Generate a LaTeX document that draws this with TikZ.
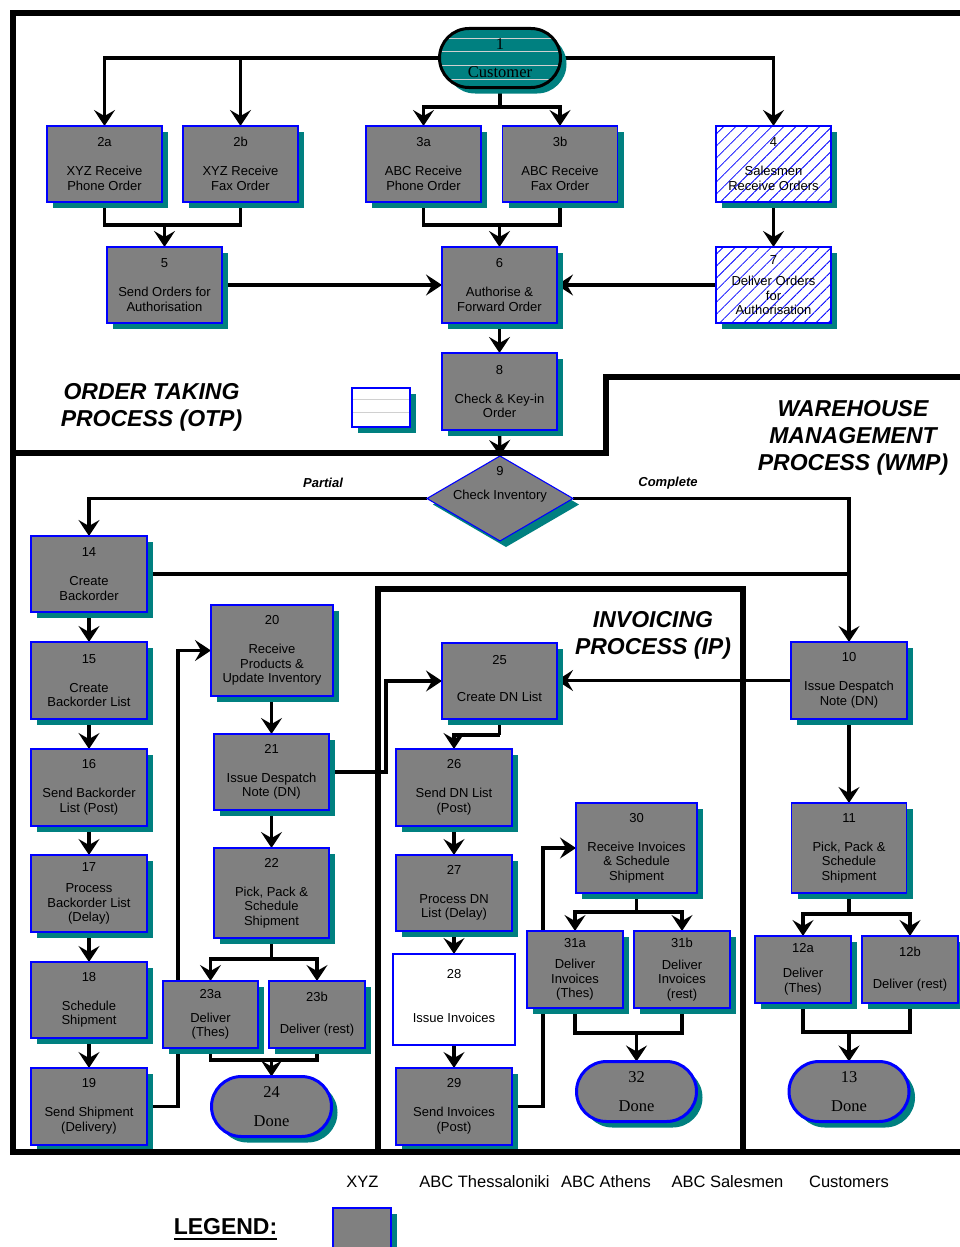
\documentclass[tikz,border=0pt]{standalone}
\usepackage{fontspec}
\setmainfont{Liberation Sans}
\newfontfamily\serifface{Liberation Serif}
\usetikzlibrary{arrows.meta,shapes.geometric,shapes.misc,shadows,patterns.meta,backgrounds}
\definecolor{boxgrey}{HTML}{808080}
\definecolor{shteal}{HTML}{008080}
\definecolor{bblue}{HTML}{0000FF}
\definecolor{stripecol}{HTML}{D0D0D0}
\tikzset{
  every node/.style={inner sep=0pt, outer sep=0pt},
  sz/.style n args={2}{minimum width=#1pt, minimum height=#2pt},
  base/.style={font=\fontsize{13}{14.5}\selectfont, align=center, text=black},
  shad/.style={general shadow={shadow xshift=6pt, shadow yshift=-6pt, fill=shteal}},
  pbox/.style={base, shad, rectangle, draw=bblue, line width=1.1pt, fill=boxgrey},
  wbox/.style={base, rectangle, draw=bblue, line width=1.1pt, fill=white},
  hbox/.style={base, shad, rectangle, draw=bblue, line width=1.1pt, fill=white,
    postaction={pattern={Lines[angle=45,distance=8.5pt,line width=0.8pt]}, pattern color=bblue}},
  done/.style={shad, rounded rectangle, draw=bblue, line width=3pt, fill=boxgrey,
    font=\serifface\fontsize{16.5}{19}\selectfont, align=center, sz={120}{60}},
  custshape/.style={shad, rounded rectangle, draw=black, line width=3pt, fill=shteal,
    font=\serifface\fontsize{16.5}{19}\selectfont, align=center, sz={121}{59},
    path picture={\foreach \d in {10,23,37,51}
      \draw[stripecol, line width=1pt] ([yshift=-\d pt]path picture bounding box.north west) -- ([yshift=-\d pt]path picture bounding box.north east);}},
  dia/.style={shad, diamond, draw=bblue, line width=1.1pt, fill=boxgrey, sz={146}{85}},
  conn/.style={line width=3.3pt, line join=miter, -{Stealth[length=16pt,width=21pt,inset=6pt,line width=2pt]}},
  lin/.style={line width=3.3pt, line join=miter},
  lane/.style={line width=6pt, line join=miter},
  region/.style={font=\bfseries\itshape\fontsize{23}{27}\selectfont, align=center},
  flowlab/.style={font=\bfseries\itshape\fontsize{13}{15}\selectfont},
  leglab/.style={font=\fontsize{16.5}{19}\selectfont}
}
\begin{document}
\begin{tikzpicture}[x=1pt,y=-1pt]
\useasboundingbox (0,0) rectangle (960,1247);

% ---------------- nodes ----------------
\node[custshape] (n1) at (500,58) {1\\[9pt]Customer};
\node[pbox, sz={115}{76}] (n2a) at (104.5,164) {2a\\[14.5pt]XYZ Receive\\Phone Order};
\node[pbox, sz={115}{76}] (n2b) at (240.5,164) {2b\\[14.5pt]XYZ Receive\\Fax Order};
\node[pbox, sz={115}{76}] (n3a) at (423.5,164) {3a\\[14.5pt]ABC Receive\\Phone Order};
\node[pbox, sz={115}{76}] (n3b) at (560,164) {3b\\[14.5pt]ABC Receive\\Fax Order};
\node[hbox, sz={115}{76}] (n4) at (773.5,164) {4\\[14.5pt]Salesmen\\Receive Orders};
\node[pbox, sz={115}{76}] (n5) at (164.5,285) {5\\[14.5pt]Send Orders for\\Authorisation};
\node[pbox, sz={115}{76}] (n6) at (499.5,285) {6\\[14.5pt]Authorise \&\\Forward Order};
\node[hbox, sz={115}{76}] (n7) at (773.5,285) {7\\[7pt]Deliver Orders\\for\\Authorisation};
\node[pbox, sz={115}{77}] (n8) at (499.5,391.5) {8\\[14.5pt]Check \& Key-in\\Order};
\node[wbox, shad, sz={58}{39},
  path picture={\foreach \d in {11,24}
    \draw[stripecol, line width=0.8pt] ([yshift=-\d pt]path picture bounding box.north west) -- ([yshift=-\d pt]path picture bounding box.north east);}] (blank) at (381,407.5) {};
\node[dia] (n9) at (500,498.5) {};
\node[base] (n9t) at (500,484) {9\\[9.5pt]Check Inventory};

\node[pbox, sz={116}{76}] (n14) at (89,574) {14\\[14.5pt]Create\\Backorder};
\node[pbox, sz={116}{77}] (n15) at (89,680.5) {15\\[14.5pt]Create\\Backorder List};
\node[pbox, sz={116}{77}] (n16) at (89,787.5) {16\\[14.5pt]Send Backorder\\List (Post)};
\node[pbox, sz={116}{77}] (n17) at (89,893.5) {17\\[7pt]Process\\Backorder List\\(Delay)};
\node[pbox, sz={116}{76}] (n18) at (89,1000) {18\\[14.5pt]Schedule\\Shipment};
\node[pbox, sz={116}{77}] (n19) at (89,1106.5) {19\\[14.5pt]Send Shipment\\(Delivery)};

\node[pbox, sz={122}{91}] (n20) at (272,650.5) {20\\[14.5pt]Receive\\Products \&\\Update Inventory};
\node[pbox, sz={115}{76}] (n21) at (271.5,772) {21\\[14.5pt]Issue Despatch\\Note (DN)};
\node[pbox, sz={115}{90}] (n22) at (271.5,893) {22\\[14.5pt]Pick, Pack \&\\Schedule\\Shipment};
\node[pbox, sz={95}{67}] (n23a) at (210.5,1014.5) {23a\\[9.5pt]Deliver\\(Thes)};
\node[pbox, sz={96}{67}] (n23b) at (317,1014.5) {23b\\[17.5pt]Deliver (rest)};
\node[done] (n24) at (271.5,1106.5) {24\\[10pt]Done};

\node[pbox, sz={115}{76}, text depth=6pt] (n25) at (499.5,681) {25\\[22.5pt]Create DN List};
\node[pbox, sz={116}{77}] (n26) at (454,787.5) {26\\[14.5pt]Send DN List\\(Post)};
\node[pbox, sz={116}{76}] (n27) at (454,893) {27\\[14.5pt]Process DN\\List (Delay)};
\node[wbox, sz={122}{91}, text depth=8pt] (n28) at (454,999.5) {28\\[29.5pt]Issue Invoices};
\node[pbox, sz={116}{77}] (n29) at (454,1106.5) {29\\[14.5pt]Send Invoices\\(Post)};
\node[pbox, sz={121}{90}] (n30) at (636.5,848) {30\\[14.5pt]Receive Invoices\\\& Schedule\\Shipment};
\node[pbox, sz={96}{77}] (n31a) at (575,969.5) {31a\\[7pt]Deliver\\Invoices\\(Thes)};
\node[pbox, sz={96}{77}] (n31b) at (682,969.5) {31b\\[7pt]Deliver\\Invoices\\(rest)};
\node[done] (n32) at (636.5,1091.5) {32\\[10pt]Done};

\node[pbox, sz={116}{77}] (n10) at (849,680.5) {10\\[14.5pt]Issue Despatch\\Note (DN)};
\node[pbox, sz={115}{90}] (n11) at (849,848) {11\\[14.5pt]Pick, Pack \&\\Schedule\\Shipment};
\node[pbox, sz={96}{67}] (n12a) at (803,969.5) {12a\\[10.5pt]Deliver\\(Thes)};
\node[pbox, sz={96}{67}] (n12b) at (910,969.5) {12b\\[17.5pt]Deliver (rest)};
\node[done] (n13) at (849,1091.5) {13\\[10pt]Done};

% region labels
\node[region] (otp) at (151.5,407.5) {ORDER TAKING\\PROCESS (OTP)};
\node[region] (wmp) at (853,438) {WAREHOUSE\\MANAGEMENT\\PROCESS (WMP)};
\node[region] (ip) at (653,635) {INVOICING\\PROCESS (IP)};
\node[flowlab] (lpart) at (323,483) {Partial};
\node[flowlab] (lcomp) at (668,483) {Complete};

% legend
\node[leglab] (lxyz) at (362.5,1182) {XYZ};
\node[leglab] (lthes) at (484.5,1182) {ABC Thessaloniki};
\node[leglab] (lath) at (606,1182) {ABC Athens};
\node[leglab] (lsal) at (727.5,1182) {ABC Salesmen};
\node[leglab] (lcus) at (849,1182) {Customers};
\node[font=\bfseries\fontsize{23}{26}\selectfont] (leg) at (225.5,1227) {LEGEND:};
\draw[line width=2.5pt] ([yshift=-4pt]leg.base west) -- ([yshift=-4pt]leg.base east);
\node[pbox, sz={58}{42}] (legbox) at (362,1229) {};

% junction coordinates
\coordinate (jc) at (500,107);
\coordinate (j1) at (164.5,225);
\coordinate (j2) at (499.5,225);
\coordinate (j14) at (849,574);
\coordinate (j19) at (178,1106.5);
\coordinate (j21) at (386,772);
\coordinate (j22) at (271.5,959);
\coordinate (j23) at (271.5,1060);
\coordinate (j25) at (499.5,735);
\coordinate (j29) at (543,1106.5);
\coordinate (j30) at (636.5,912);
\coordinate (j31) at (636.5,1033);
\coordinate (j11) at (849,914);
\coordinate (j12) at (849,1032);

% ---------------- connectors (behind) ----------------
\begin{pgfonlayer}{background}
\fill[white] (0,0) rectangle (960,1247);
\draw[conn] (n1.west) -| (n2a.north);
\draw[conn] (n1.west -| n2b.north) -- (n2b.north);
\draw[conn] (n1.east) -| (n4.north);
\draw[lin] (n1.south) -- (jc);
\draw[conn] (jc) -| (n3a.north);
\draw[conn] (jc) -| (n3b.north);
\draw[lin] (n2a.south) |- (j1) -| (n2b.south);
\draw[conn] (j1) -- (n5.north);
\draw[lin] (n3a.south) |- (j2) -| (n3b.south);
\draw[conn] (j2) -- (n6.north);
\draw[conn] (n4.south) -- (n7.north);
\draw[conn] (n5.east) -- (n6.west);
\draw[conn] (n7.west) -- (n6.east);
\draw[conn] (n6.south) -- (n8.north);
\draw[conn] (n8.south) -- (n9.north);
\draw[conn] (n9.west) -| (n14.north);
\draw[conn] (n9.east) -| (n10.north);
\draw[lin] (n14.east) -- (j14);
\draw[conn] (n14.south) -- (n15.north);
\draw[conn] (n15.south) -- (n16.north);
\draw[conn] (n16.south) -- (n17.north);
\draw[conn] (n17.south) -- (n18.north);
\draw[conn] (n18.south) -- (n19.north);
\draw[conn] (n19.east) -- (j19) |- (n20.west);
\draw[conn] (n20.south -| n21.north) -- (n21.north);
\draw[conn] (n21.south) -- (n22.north);
\draw[lin] (n22.south) -- (j22);
\draw[conn] (j22) -| (n23a.north);
\draw[conn] (j22) -| (n23b.north);
\draw[lin] (n23a.south) |- (j23) -| (n23b.south);
\draw[conn] (j23) -- (n24.north);
\draw[conn] (n21.east) -- (j21) |- (n25.west);
\draw[conn] (n10.west) -- (n10.west -| n25.east);
\draw[lin] (n25.south) -- (j25);
\draw[conn] (j25) -| (n26.north);
\draw[conn] (n26.south) -- (n27.north);
\draw[conn] (n27.south) -- (n28.north);
\draw[conn] (n28.south) -- (n29.north);
\draw[conn] (n29.east) -- (j29) |- (n30.west);
\draw[lin] (n30.south) -- (j30);
\draw[conn] (j30) -| (n31a.north);
\draw[conn] (j30) -| (n31b.north);
\draw[lin] (n31a.south) |- (j31) -| (n31b.south);
\draw[conn] (j31) -- (n32.north);
\draw[conn] (n10.south) -- (n11.north);
\draw[lin] (n11.south) -- (j11);
\draw[conn] (j11) -| (n12a.north);
\draw[conn] (j11) -| (n12b.north);
\draw[lin] (n12a.south) |- (j12) -| (n12b.south);
\draw[conn] (j12) -- (n13.north);
\end{pgfonlayer}

% ---------------- swimlane borders ----------------
\draw[lane] (966,13) -- (13,13) -- (13,1152) -- (966,1152);
\draw[lane] (13,452.5) -- (606,452.5) -- (606,377) -- (966,377);
\draw[lane] (378,1152) -- (378,589) -- (743,589) -- (743,1152);
\end{tikzpicture}
\end{document}
